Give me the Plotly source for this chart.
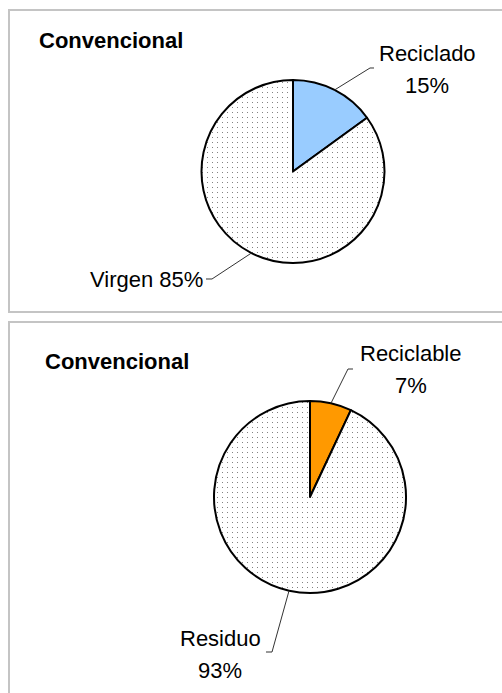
import math
import plotly.graph_objects as go

W, H = 502, 693

# ---- data ----
title_top = "Convencional"
labels_top = ["Reciclado", "Virgen"]
values_top = [15, 85]
colors_top = ["#99CCFF", "#FFFFFF"]

title_bot = "Convencional"
labels_bot = ["Reciclable", "Residuo"]
values_bot = [7, 93]
colors_bot = ["#FF9900", "#FFFFFF"]

FONT = "Arial, 'Liberation Sans', sans-serif"
FS = 22


def px(x):
    return x / W


def py(y):
    return 1 - y / H


fig = go.Figure()
shapes = []
annotations = []


def add_panel(top, bottom, title, tx, ty):
    shapes.append(dict(type="rect", xref="paper", yref="paper",
                       x0=px(9), x1=px(540), y0=py(bottom), y1=py(top),
                       line=dict(color="#C4C4C4", width=2), fillcolor="rgba(0,0,0,0)",
                       layer="below"))
    annotations.append(dict(text="<b>%s</b>" % title, x=px(tx), y=py(ty), xref="paper", yref="paper",
                            xanchor="left", yanchor="middle", showarrow=False,
                            font=dict(family=FONT, size=FS, color="black")))


def add_pie(labels, values, colors, cx, cy, r):
    fig.add_trace(go.Pie(
        labels=labels, values=values, sort=False, direction="clockwise", rotation=0,
        textinfo="none", hoverinfo="label+percent", showlegend=False,
        marker=dict(colors=colors, line=dict(color="black", width=2),
                    pattern=dict(shape=["", "."], fgcolor="#222222", size=5, solidity=0.03)),
        domain=dict(x=[px(cx - r), px(cx + r)], y=[py(cy + r), py(cy - r)]),
    ))


def edge_point(values, i, cx, cy, r):
    tot = sum(values)
    start = sum(values[:i]) / tot * 360
    mid = start + values[i] / tot * 180
    a = math.radians(mid)
    return cx + r * math.sin(a), cy - r * math.cos(a)


def leader(points):
    d = "M " + " L ".join("%f,%f" % (px(x), py(y)) for x, y in points)
    shapes.append(dict(type="path", xref="paper", yref="paper", path=d,
                       line=dict(color="#333333", width=1)))


def text(t, x, y, anchor="center"):
    annotations.append(dict(text=t, x=px(x), y=py(y), xref="paper", yref="paper",
                            xanchor=anchor, yanchor="middle", showarrow=False,
                            font=dict(family=FONT, size=FS, color="black")))


def pct(values, i):
    return "%d%%" % round(values[i] / sum(values) * 100)


# ---- top panel ----
add_panel(10, 312, title_top, 37, 40)
c1 = (293, 171.5, 91.5)
add_pie(labels_top, values_top, colors_top, *c1)
p = edge_point(values_top, 0, *c1)
leader([p, (370, 68), (374, 68)])
text(labels_top[0], 427, 53)
text(pct(values_top, 0), 427, 85)
p = edge_point(values_top, 1, *c1)
leader([p, (212, 279), (206, 279)])
text("%s %s" % (labels_top[1], pct(values_top, 1)), 205, 279, anchor="right")

# ---- bottom panel ----
add_panel(322, 720, title_bot, 43, 361)
c2 = (310, 497, 96)
add_pie(labels_bot, values_bot, colors_bot, *c2)
p = edge_point(values_bot, 0, *c2)
leader([p, (348, 369), (353, 369)])
text(labels_bot[0], 411, 353)
text(pct(values_bot, 0), 411, 385)
p = edge_point(values_bot, 1, *c2)
leader([p, (272, 652), (266, 652)])
text(labels_bot[1], 220, 638)
text(pct(values_bot, 1), 220, 670)

fig.update_layout(width=W, height=H, margin=dict(l=0, r=0, t=0, b=0),
                  paper_bgcolor="white", plot_bgcolor="white",
                  shapes=shapes, annotations=annotations)

fig.write_html("out.html", config={"displayModeBar": False},
               post_script="document.body.style.margin='0';document.body.style.overflow='hidden';")
